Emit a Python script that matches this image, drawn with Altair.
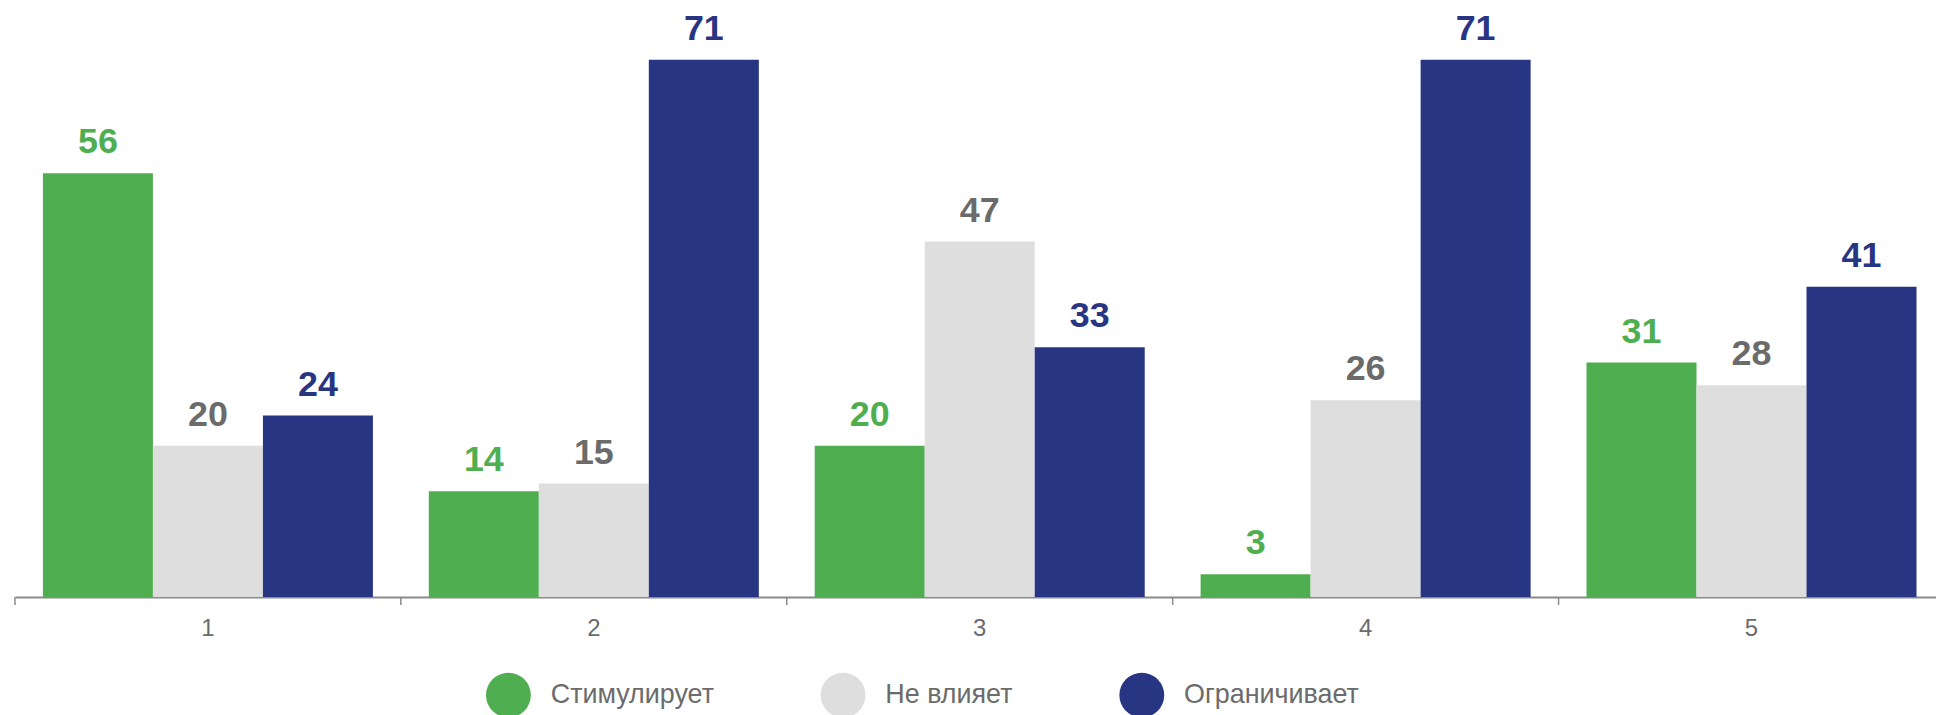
import altair as alt
import pandas as pd

categories = ["1", "2", "3", "4", "5"]
series = ["Стимулирует", "Не влияет", "Ограничивает"]
stimulates = [56, 14, 20, 3, 31]
no_effect = [20, 15, 47, 26, 28]
limits = [24, 71, 33, 71, 41]

bar_colors = ["#4FAE4F", "#DEDEDE", "#283583"]
label_colors = ["#4FAE4F", "#6B6B6B", "#283583"]

rows = []
for i, c in enumerate(categories):
    for s, vals in zip(series, [stimulates, no_effect, limits]):
        rows.append({"cat": c, "series": s, "value": vals[i]})
df = pd.DataFrame(rows)
cat_df = pd.DataFrame({"cat": categories})

W = 1929
H = 585

x_enc = alt.X(
    "cat:N",
    sort=categories,
    scale=alt.Scale(paddingInner=0, paddingOuter=0, range=[0, 1937.5]),
    axis=alt.Axis(
        title=None,
        labelAngle=0,
        ticks=False,
        tickSize=0,
        domainColor="#8A8A8A",
        domainWidth=2,
        labelColor="#6B6B6B",
        labelFontSize=24,
        labelPadding=20,
    ),
)
xoff = alt.XOffset(
    "series:N", sort=series, scale=alt.Scale(paddingOuter=0.254, paddingInner=0)
)
y_enc = alt.Y("value:Q", scale=alt.Scale(domain=[0, 77], nice=False), axis=None)

bars = alt.Chart(df).mark_bar().encode(
    x=x_enc,
    xOffset=xoff,
    y=y_enc,
    color=alt.Color(
        "series:N",
        sort=series,
        scale=alt.Scale(domain=series, range=bar_colors),
        legend=alt.Legend(
            title=None,
            orient="none",
            legendX=473,
            legendY=661,
            direction="horizontal",
            symbolType="circle",
            symbolSize=2025,
            symbolStrokeWidth=0,
            labelFontSize=27,
            labelColor="#6B6B6B",
            labelOffset=20,
            labelLimit=0,
            columnPadding=107,
        ),
    ),
)

labels = alt.Chart(df).mark_text(
    fontSize=36, fontWeight="bold", dy=-20, baseline="alphabetic"
).encode(
    x=x_enc,
    xOffset=xoff,
    y=y_enc,
    text=alt.Text("value:Q"),
    color=alt.Color(
        "series:N",
        sort=series,
        scale=alt.Scale(domain=series, range=label_colors),
        legend=None,
    ),
)

ticks = alt.Chart(cat_df).mark_rule(color="#8A8A8A", strokeWidth=1.5).encode(
    x=alt.X("cat:N", sort=categories, bandPosition=0),
    y=alt.value(H),
    y2=alt.value(H + 8),
)

chart = (
    alt.layer(bars, labels, ticks)
    .resolve_scale(color="independent")
    .properties(
        width=W,
        height=H,
        padding={"left": 7, "top": 5, "right": 0, "bottom": 130},
        autosize=alt.AutoSizeParams(type="none"),
    )
    .configure(font="Liberation Sans")
    .configure_view(stroke=None)
)

chart.save("out.html", embed_options={"renderer": "svg", "actions": False})
